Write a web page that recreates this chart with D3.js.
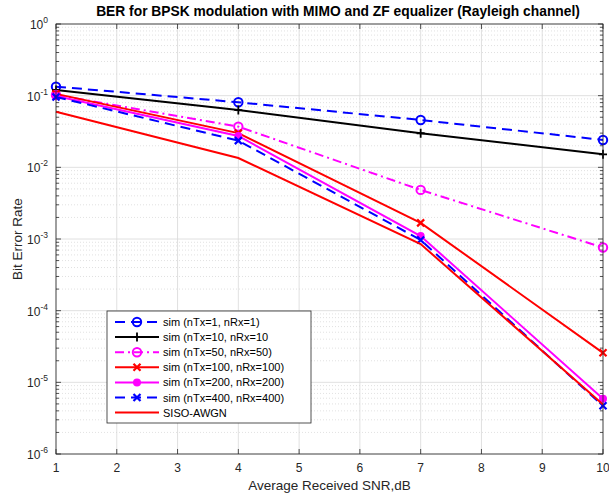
<!DOCTYPE html>
<html><head><meta charset="utf-8">
<script src="https://cdn.jsdelivr.net/npm/d3@7"></script>
<style>body{margin:0;background:#fff}svg{display:block;font-family:"Liberation Sans",Arial,sans-serif}</style>
</head><body><svg id="c" width="609" height="497"></svg>
<script>
const snr = [1, 4, 7, 10];
const ber_1x1 = [0.1336, 0.0809, 0.0458, 0.0241];
const ber_10x10 = [0.120, 0.063, 0.0299, 0.0152];
const ber_50x50 = [0.102, 0.037, 0.00484, 0.00076];
const ber_100x100 = [0.106, 0.030, 0.00168, 2.58e-5];
const ber_200x200 = [0.099, 0.0274, 0.0011, 5.9e-6];
const ber_400x400 = [0.096, 0.0236, 0.00097, 4.7e-6];
const ber_awgn = [0.0598, 0.0135, 0.00085, 4.9e-6];
const xTicks = [1,2,3,4,5,6,7,8,9,10];
const yExps = [0,-1,-2,-3,-4,-5,-6];
const labels = ["sim (nTx=1, nRx=1)","sim (nTx=10, nRx=10","sim (nTx=50, nRx=50)","sim (nTx=100, nRx=100)","sim (nTx=200, nRx=200)","sim (nTx=400, nRx=400)","SISO-AWGN"];
const title = "BER for BPSK modulation with MIMO and ZF equalizer (Rayleigh channel)";
const xLabel = "Average Received SNR,dB";
const yLabel = "Bit Error Rate";

const series = [
  {v: ber_1x1, color:"#0000FF", dash:"10,6", marker:"circle"},
  {v: ber_10x10, color:"#000000", dash:null, marker:"plus"},
  {v: ber_50x50, color:"#FF00FF", dash:"9,4,2,4", marker:"circle"},
  {v: ber_100x100, color:"#FF0000", dash:null, marker:"x"},
  {v: ber_200x200, color:"#FF00FF", dash:null, marker:"dot"},
  {v: ber_400x400, color:"#0000FF", dash:"10,6", marker:"x"},
  {v: ber_awgn, color:"#FF0000", dash:null, marker:null}
];

const L=56, R=603, T=24, B=454;
const x = d3.scaleLinear().domain([1,10]).range([L,R]);
const y = d3.scaleLog().domain([1e-6,1]).range([B,T]);
const svg = d3.select("#c");
const axc = "#262626";

// grid
const g = svg.append("g");
xTicks.forEach(t=>{
  g.append("line").attr("x1",x(t)).attr("x2",x(t)).attr("y1",T).attr("y2",B).attr("stroke","#d8d8d8").attr("stroke-width",0.8);
});
for (let e=-6;e<0;e++){
  for (let m=2;m<=9;m++){
    const v=m*Math.pow(10,e);
    g.append("line").attr("x1",L).attr("x2",R).attr("y1",y(v)).attr("y2",y(v)).attr("stroke","#d4d4d4").attr("stroke-width",0.7).attr("stroke-dasharray","1,2");
  }
}
yExps.forEach(e=>{
  g.append("line").attr("x1",L).attr("x2",R).attr("y1",y(Math.pow(10,e))).attr("y2",y(Math.pow(10,e))).attr("stroke","#d8d8d8").attr("stroke-width",0.8);
});

// ticks
const tk = svg.append("g").attr("stroke",axc).attr("stroke-width",0.8);
xTicks.forEach(t=>{
  tk.append("line").attr("x1",x(t)).attr("x2",x(t)).attr("y1",B).attr("y2",B-5);
  tk.append("line").attr("x1",x(t)).attr("x2",x(t)).attr("y1",T).attr("y2",T+5);
});
for (let e=-6;e<=0;e++){
  tk.append("line").attr("x1",L).attr("x2",L+5).attr("y1",y(Math.pow(10,e))).attr("y2",y(Math.pow(10,e)));
  tk.append("line").attr("x1",R).attr("x2",R-5).attr("y1",y(Math.pow(10,e))).attr("y2",y(Math.pow(10,e)));
  if (e<0) for (let m=2;m<=9;m++){
    const v=m*Math.pow(10,e);
    tk.append("line").attr("x1",L).attr("x2",L+3).attr("y1",y(v)).attr("y2",y(v));
    tk.append("line").attr("x1",R).attr("x2",R-3).attr("y1",y(v)).attr("y2",y(v));
  }
}

// tick labels
xTicks.forEach(t=>{
  svg.append("text").attr("x",x(t)).attr("y",B+18).attr("text-anchor","middle").attr("font-size",12).attr("fill",axc).text(t);
});
yExps.forEach(e=>{
  const tx = svg.append("text").attr("x",L-8).attr("y",y(Math.pow(10,e))+5).attr("text-anchor","end").attr("font-size",12).attr("fill",axc);
  tx.append("tspan").text("10");
  tx.append("tspan").attr("dy",-6).attr("font-size",8.5).text(e);
});

// lines
const line = d3.line().x((d,i)=>x(snr[i])).y(d=>y(d));
const plot = svg.append("g");
function drawMarker(sel, type, color, cx, cy){
  if (type==="circle"){
    sel.append("circle").attr("cx",cx).attr("cy",cy).attr("r",4.2).attr("fill","none").attr("stroke",color).attr("stroke-width",2);
  } else if (type==="plus"){
    sel.append("path").attr("d",`M${cx-4},${cy}H${cx+4}M${cx},${cy-4.5}V${cy+4.5}`).attr("stroke",color).attr("stroke-width",1.8);
  } else if (type==="x"){
    sel.append("path").attr("d",`M${cx-3.5},${cy-3.5}L${cx+3.5},${cy+3.5}M${cx-3.5},${cy+3.5}L${cx+3.5},${cy-3.5}`).attr("stroke",color).attr("stroke-width",2.2);
  } else if (type==="dot"){
    sel.append("circle").attr("cx",cx).attr("cy",cy).attr("r",4).attr("fill",color);
  }
}
series.forEach(s=>{
  plot.append("path").attr("d",line(s.v)).attr("fill","none").attr("stroke",s.color).attr("stroke-width",2).attr("stroke-dasharray",s.dash);
  if (s.marker) s.v.forEach((d,i)=>drawMarker(plot,s.marker,s.color,x(snr[i]),y(d)));
});

// frame
svg.append("rect").attr("x",L).attr("y",T).attr("width",R-L).attr("height",B-T).attr("fill","none").attr("stroke",axc).attr("stroke-width",0.8);

// legend
const lg = svg.append("g");
const lx=107, ly=311, lw=204, lh=112;
lg.append("rect").attr("x",lx).attr("y",ly).attr("width",lw).attr("height",lh).attr("fill","#fff").attr("stroke",axc).attr("stroke-width",0.8);
series.forEach((s,i)=>{
  const yy = ly+11+i*15.1;
  lg.append("line").attr("x1",lx+8).attr("x2",lx+52).attr("y1",yy).attr("y2",yy).attr("stroke",s.color).attr("stroke-width",2).attr("stroke-dasharray",s.dash);
  if (s.marker) drawMarker(lg,s.marker,s.color,lx+30,yy);
  lg.append("text").attr("x",lx+56).attr("y",yy+4).attr("font-size",11).attr("fill","#000").text(labels[i]);
});

// titles
svg.append("text").attr("x",338).attr("y",16).attr("text-anchor","middle").attr("font-size",13.8).attr("font-weight","bold").attr("fill","#000").text(title);
svg.append("text").attr("x",(L+R)/2).attr("y",490).attr("text-anchor","middle").attr("font-size",13.5).attr("fill",axc).text(xLabel);
svg.append("text").attr("transform",`translate(22,${(T+B)/2}) rotate(-90)`).attr("text-anchor","middle").attr("font-size",13.5).attr("fill",axc).text(yLabel);
</script></body></html>
